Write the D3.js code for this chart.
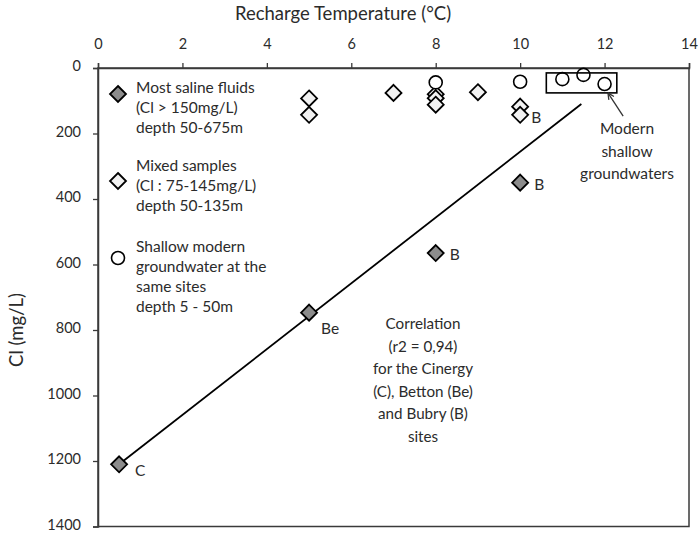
<!DOCTYPE html>
<html><head><meta charset="utf-8">
<script src="https://cdn.jsdelivr.net/npm/d3@7"></script>
<style>body{margin:0;background:#fff;overflow:hidden}svg{display:block}text{font-family:Lato,"Open Sans",sans-serif;fill:#2b2b2b}</style>
</head><body><div id="c"></div>
<script>
const xTicks = [0,2,4,6,8,10,12,14];
const yTicks = [0,200,400,600,800,1000,1200,1400];
const salineX = [0.5, 5, 8, 10];
const salineY = [1210, 747, 565, 350];
const salineLabels = ["C","Be","B","B"];
const mixedX = [5, 5, 7, 8, 8, 8, 9, 10, 10];
const mixedY = [93, 143, 76, 80, 92, 112, 74, 118, 143];
const shallowX = [8, 10, 11, 11.5, 12];
const shallowY = [44, 42, 34, 21, 49];
const lineX = [0.5, 11.45];
const lineY = [1210, 110];
const boxX = [10.62, 12.29];
const boxY = [15, 76];
const arrowX = [12.44, 12.08];
const arrowY = [147, 76];
const legendLines = [
  ["Most saline fluids","(Cl > 150mg/L)","depth 50-675m"],
  ["Mixed samples","(Cl : 75-145mg/L)","depth 50-135m"],
  ["Shallow modern","groundwater at the","same sites","depth 5 - 50m"]
];
const corrText = ["Correlation","(r2 = 0,94)","for the Cinergy","(C), Betton (Be)","and Bubry (B)","sites"];
const modernText = ["Modern","shallow","groundwaters"];

const W=700,H=533;
const svg=d3.select("#c").append("svg").attr("width",W).attr("height",H);
const x=d3.scaleLinear().domain([0,14]).range([98,689]);
const y=d3.scaleLinear().domain([0,1400]).range([68,526.5]);

// frame
svg.append("rect").attr("x",x(0)).attr("y",y(0)).attr("width",x(14)-x(0)).attr("height",y(1400)-y(0))
  .attr("fill","none").attr("stroke","#3a3a3a").attr("stroke-width",1.5);

// axes
const xa=svg.append("g").attr("transform",`translate(0,${y(0)})`)
  .call(d3.axisTop(x).tickValues(xTicks).tickFormat(d3.format("d")).tickSize(5).tickPadding(14));
const ya=svg.append("g").attr("transform",`translate(${x(0)},0)`)
  .call(d3.axisLeft(y).tickValues(yTicks).tickFormat(d3.format("d")).tickSize(5).tickPadding(12));
[xa,ya].forEach(g=>{
  g.select(".domain").attr("stroke","#3a3a3a").attr("stroke-width",1.5);
  g.selectAll(".tick line").attr("stroke","#3a3a3a").attr("stroke-width",1.3);
  g.selectAll(".tick text").attr("font-size",14.5).attr("fill","#2b2b2b").style("font-family","Lato,sans-serif");
});
ya.selectAll(".tick text").attr("dy","0.2em");

svg.append("text").attr("x",343).attr("y",13).attr("text-anchor","middle").attr("dominant-baseline","central")
  .attr("font-size",18.5).text("Recharge Temperature (°C)");
svg.append("text").attr("transform",`translate(16,330) rotate(-90)`).attr("text-anchor","middle")
  .attr("dominant-baseline","central").attr("font-size",18.5).text("Cl (mg/L)");

// regression line
svg.append("line").attr("x1",x(lineX[0])).attr("y1",y(lineY[0])).attr("x2",x(lineX[1])).attr("y2",y(lineY[1]))
  .attr("stroke","#000").attr("stroke-width",1.8);

const diamond=(cx,cy,r)=>`M${cx},${cy-r}L${cx+r},${cy}L${cx},${cy+r}L${cx-r},${cy}Z`;

// mixed
mixedX.forEach((v,i)=>{
  svg.append("path").attr("d",diamond(x(v),y(mixedY[i]),8)).attr("fill","#f2f2f2").attr("stroke","#000").attr("stroke-width",1.8);
});
// saline
salineX.forEach((v,i)=>{
  svg.append("path").attr("d",diamond(x(v),y(salineY[i]),8)).attr("fill","#8c8c8c").attr("stroke","#000").attr("stroke-width",1.8);
});
// shallow
shallowX.forEach((v,i)=>{
  svg.append("circle").attr("cx",x(v)).attr("cy",y(shallowY[i])).attr("r",6.5).attr("fill","#fff").attr("stroke","#000").attr("stroke-width",1.6);
});

// point labels
const lblOff=[[16,6],[12,15],[14,1],[14,1]];
salineX.forEach((v,i)=>{
  svg.append("text").attr("x",x(v)+lblOff[i][0]).attr("y",y(salineY[i])+lblOff[i][1]).attr("dominant-baseline","central")
    .attr("font-size",15.5).text(salineLabels[i]);
});
svg.append("text").attr("x",x(10)+11).attr("y",y(143)+2).attr("dominant-baseline","central").attr("font-size",15.5).text("B");

// box + arrow
svg.append("rect").attr("x",x(boxX[0])).attr("y",y(boxY[0])).attr("width",x(boxX[1])-x(boxX[0])).attr("height",y(boxY[1])-y(boxY[0]))
  .attr("fill","none").attr("stroke","#000").attr("stroke-width",1.6);
const ax0=x(arrowX[0]),ay0=y(arrowY[0]),ax1=x(arrowX[1]),ay1=y(arrowY[1]);
svg.append("line").attr("x1",ax0).attr("y1",ay0).attr("x2",ax1).attr("y2",ay1).attr("stroke","#333").attr("stroke-width",1.3);
const ang=Math.atan2(ay1-ay0,ax1-ax0);
[0.45,-0.45].forEach(d=>{
  svg.append("line").attr("x1",ax1).attr("y1",ay1)
    .attr("x2",ax1-7*Math.cos(ang+d)).attr("y2",ay1-7*Math.sin(ang+d)).attr("stroke","#333").attr("stroke-width",1.3);
});
modernText.forEach((t,i)=>{
  svg.append("text").attr("x",627).attr("y",128+i*22.5).attr("text-anchor","middle").attr("dominant-baseline","central")
    .attr("font-size",15.5).text(t);
});

// correlation text
corrText.forEach((t,i)=>{
  svg.append("text").attr("x",423).attr("y",323+i*22.6).attr("text-anchor","middle").attr("dominant-baseline","central")
    .attr("font-size",15.2).text(t);
});

// legend
const legY=[87,165,246];
const legSym=[94,181,258];
legendLines.forEach((lines,k)=>{
  lines.forEach((t,i)=>{
    svg.append("text").attr("x",136).attr("y",legY[k]+i*20).attr("dominant-baseline","central").attr("font-size",15.5).text(t);
  });
});
svg.append("path").attr("d",diamond(118,legSym[0],8)).attr("fill","#8c8c8c").attr("stroke","#000").attr("stroke-width",1.8);
svg.append("path").attr("d",diamond(118,legSym[1],8)).attr("fill","#f2f2f2").attr("stroke","#000").attr("stroke-width",1.8);
svg.append("circle").attr("cx",118).attr("cy",legSym[2]).attr("r",6.5).attr("fill","#fff").attr("stroke","#000").attr("stroke-width",1.6);
</script></body></html>
